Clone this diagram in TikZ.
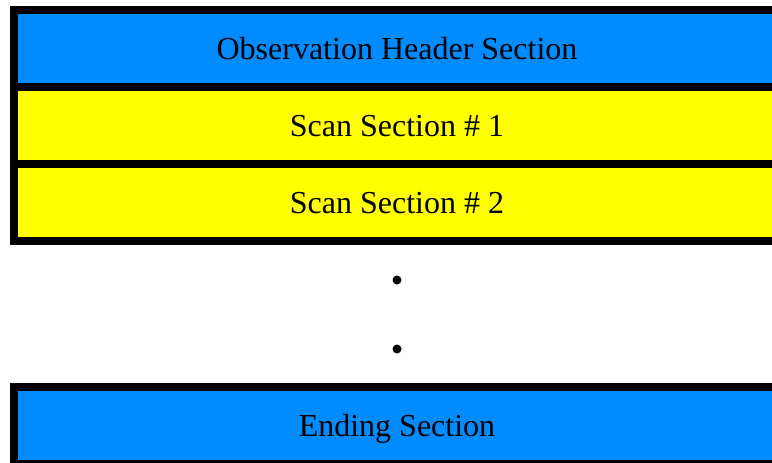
\documentclass[tikz,border=0pt]{standalone}
\usepackage{fontspec}
\setmainfont{Liberation Serif}
\definecolor{secblue}{RGB}{0,140,255}
\definecolor{secyellow}{RGB}{255,255,0}
\begin{document}
\begin{tikzpicture}[x=1pt,y=-1pt,
  section/.style={rectangle, draw=black, line width=8pt, minimum width=766pt, minimum height=77pt, inner sep=0pt, text height=21pt, text depth=0pt, font=\fontsize{32}{36}\selectfont},
  dot/.style={circle, fill=black, inner sep=0pt, minimum size=9pt}]
\useasboundingbox (0,0) rectangle (772,463);
\clip (0,0) rectangle (772,463);
\node[section, fill=secblue] (hdr) at (397,48.5) {Observation Header Section};
\node[section, fill=secyellow] (scan1) at (397,125.5) {Scan Section \# 1};
\node[section, fill=secyellow] (scan2) at (397,202.5) {Scan Section \# 2};
\node[dot] (d1) at (397,280) {};
\node[dot] (d2) at (397,349) {};
\node[section, fill=secblue] (end) at (397,425.5) {Ending Section};
\end{tikzpicture}
\end{document}
